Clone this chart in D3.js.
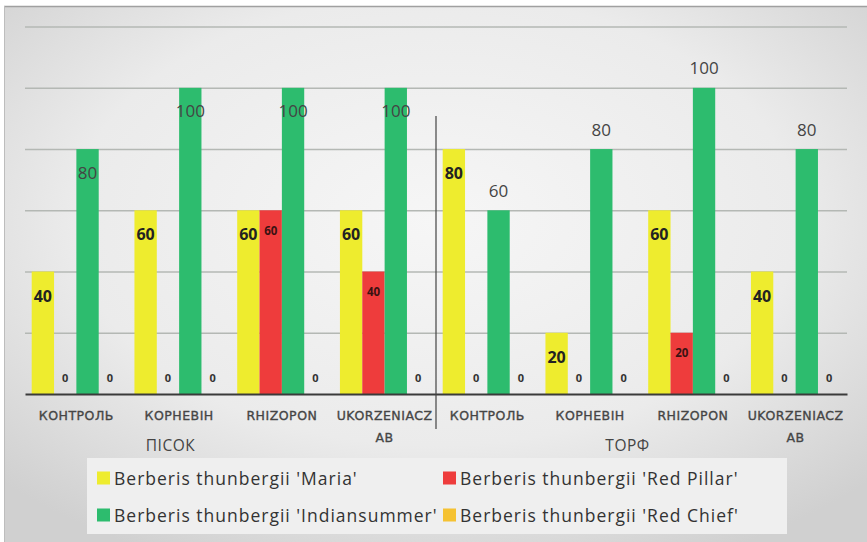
<!DOCTYPE html>
<html>
<head>
<meta charset="utf-8">
<script src="https://cdn.jsdelivr.net/npm/d3@7"></script>
<style>
  html, body { margin: 0; padding: 0; background: #ffffff; }
  svg { display: block; }
</style>
</head>
<body>
<svg id="chart" width="867" height="542"></svg>
<script>
// ---- data ----
const groups = ["ПІСОК", "ТОРФ"];
const treatments = ["КОНТРОЛЬ", "КОРНЕВІН", "RHIZOPON", "UKORZENIACZAB"];
const seriesNames = [
  "Berberis thunbergii 'Maria'",
  "Berberis thunbergii 'Red Pillar'",
  "Berberis thunbergii 'Indiansummer'",
  "Berberis thunbergii 'Red Chief'"
];
const seriesColors = ["#eeec2e", "#ee3c3c", "#2dbc6e", "#f5c232"];
// values per category: ПІСОК (4 treatments) then ТОРФ (4 treatments)
const maria        = [40, 60, 60, 60, 80, 20, 60, 40];
const redPillar    = [0, 0, 60, 40, 0, 0, 20, 0];
const indiansummer = [80, 100, 100, 100, 60, 80, 100, 80];
const redChief     = [0, 0, 0, 0, 0, 0, 0, 0];
const yTicks = [0, 20, 40, 60, 80, 100, 120];

const seriesValues = [maria, redPillar, indiansummer, redChief];
const categories = [];
groups.forEach((g, gi) => treatments.forEach((t, ti) => categories.push({ key: g + "|" + t, group: g, gi, label: t })));

const svg = d3.select("#chart");
const W = 867, H = 542;

// background
const defs = svg.append("defs");
const rg = defs.append("radialGradient").attr("id", "bg").attr("cx", "50%").attr("cy", "40%").attr("r", "70%");
rg.append("stop").attr("offset", "0%").attr("stop-color", "#f6f6f6");
rg.append("stop").attr("offset", "60%").attr("stop-color", "#ebebeb");
rg.append("stop").attr("offset", "100%").attr("stop-color", "#d0d0d0");
svg.append("rect").attr("x", 0).attr("y", 0).attr("width", W).attr("height", H).attr("fill", "#ffffff");
svg.append("rect").attr("x", 4).attr("y", 6).attr("width", W - 4).attr("height", H - 6).attr("fill", "url(#bg)");
svg.append("line").attr("x1", 4).attr("x2", W).attr("y1", 6.5).attr("y2", 6.5).attr("stroke", "#a0a0a0").attr("stroke-width", 1.5);
svg.append("line").attr("x1", 4.5).attr("x2", 4.5).attr("y1", 6).attr("y2", H).attr("stroke", "#bdbdbd").attr("stroke-width", 1);

// scales
const plotLeft = 25, plotRight = 847, baseY = 394, topY = 26.6;
const x0 = d3.scaleBand().domain(categories.map(c => c.key)).range([plotLeft, plotRight]).padding(0);
const x1 = d3.scaleBand().domain(d3.range(seriesNames.length)).range([0, x0.bandwidth()]).paddingInner(0).paddingOuter(0.3);
const y = d3.scaleLinear().domain([0, 120]).range([baseY, topY]);

// gridlines
const yAxis = d3.axisLeft(y).tickValues(yTicks.slice(1)).tickSize(-(plotRight - plotLeft)).tickFormat("");
const gy = svg.append("g").attr("transform", `translate(${plotLeft},0)`).call(yAxis);
gy.select(".domain").remove();
gy.selectAll(".tick line").attr("stroke", "#b4b8b4").attr("stroke-width", 1.5);

// bars
const catG = svg.append("g").selectAll("g").data(categories).join("g")
  .attr("transform", d => `translate(${x0(d.key)},0)`);

catG.each(function (c, ci) {
  const g = d3.select(this);
  seriesValues.forEach((vals, si) => {
    const v = vals[ci];
    const bx = x1(si), bw = x1.bandwidth();
    if (v > 0) {
      g.append("rect").attr("x", bx).attr("y", y(v)).attr("width", bw).attr("height", y(0) - y(v))
        .attr("fill", seriesColors[si]);
    }
  });
});

// baseline axis
const xAxis = d3.axisBottom(x0).tickSize(0).tickFormat("");
const gx = svg.append("g").attr("transform", `translate(0,${baseY})`).call(xAxis);
gx.select(".domain").attr("stroke", "#3a3a3a").attr("stroke-width", 2);

// data labels
catG.each(function (c, ci) {
  const g = d3.select(this);
  seriesValues.forEach((vals, si) => {
    const v = vals[ci];
    const cx = x1(si) + x1.bandwidth() / 2;
    const t = g.append("text").attr("x", cx).attr("text-anchor", "middle").attr("dominant-baseline", "central")
      .attr("font-family", "'Open Sans', sans-serif").text(v);
    if (v === 0) {
      t.attr("y", y(0) - 17).attr("font-size", 11).attr("font-weight", "bold").attr("fill", "#333");
    } else if (si === 0) {
      t.attr("y", y(v) + 24).attr("font-size", 16).attr("font-weight", "bold").attr("fill", "#222");
    } else if (si === 1) {
      t.attr("y", y(v) + 20).attr("font-size", 11.5).attr("font-weight", "bold").attr("fill", "#3a1212");
    } else if (si === 2) {
      if (c.gi === 0) t.attr("y", y(v) + 23);
      else t.attr("y", y(v) - 20);
      t.attr("font-size", 17).attr("fill", "#444");
    }
  });
});

// category labels
const catFont = "'DejaVu Sans', sans-serif";
catG.each(function (c) {
  const g = d3.select(this);
  const cx = x0.bandwidth() / 2;
  const mk = (yy, s) => g.append("text").attr("x", cx).attr("y", yy).attr("text-anchor", "middle").attr("dominant-baseline", "central")
    .attr("font-family", catFont).attr("font-size", 12.5).attr("letter-spacing", 0.5)
    .attr("fill", "#454545").attr("stroke", "#454545").attr("stroke-width", 0.35).text(s);
  if (c.label === "UKORZENIACZAB") {
    mk(415, "UKORZENIACZ");
    mk(437, "AB");
  } else mk(415, c.label);
});

// group separator
const sepX = x0(categories[4].key);
svg.append("line").attr("x1", sepX).attr("x2", sepX).attr("y1", 116).attr("y2", 429).attr("stroke", "#444").attr("stroke-width", 1.2);

// group labels
const groupOffsets = [-60, -14];
groups.forEach((g, gi) => {
  const first = x0(categories[gi * 4].key);
  const gc = first + 2 * x0.bandwidth() + groupOffsets[gi];
  svg.append("text").attr("x", gc).attr("y", 445).attr("text-anchor", "middle").attr("dominant-baseline", "central")
    .attr("font-family", "'Open Sans', sans-serif").attr("font-size", 15.5).attr("letter-spacing", 0.5).attr("fill", "#444").text(g);
});

// legend
svg.append("rect").attr("x", 87).attr("y", 458).attr("width", 700).attr("height", 76).attr("fill", "#efefef");
const legPos = [[97, 478], [443, 478], [97, 515], [443, 515]];
seriesNames.forEach((n, i) => {
  const [lx, ly] = legPos[i];
  svg.append("rect").attr("x", lx).attr("y", ly - 6.5).attr("width", 13).attr("height", 13).attr("fill", seriesColors[i]);
  svg.append("text").attr("x", lx + 17).attr("y", ly).attr("dominant-baseline", "central")
    .attr("font-family", "'Open Sans', sans-serif").attr("font-size", 17.5).attr("letter-spacing", 1).attr("fill", "#333").text(n);
});
</script>
</body>
</html>
